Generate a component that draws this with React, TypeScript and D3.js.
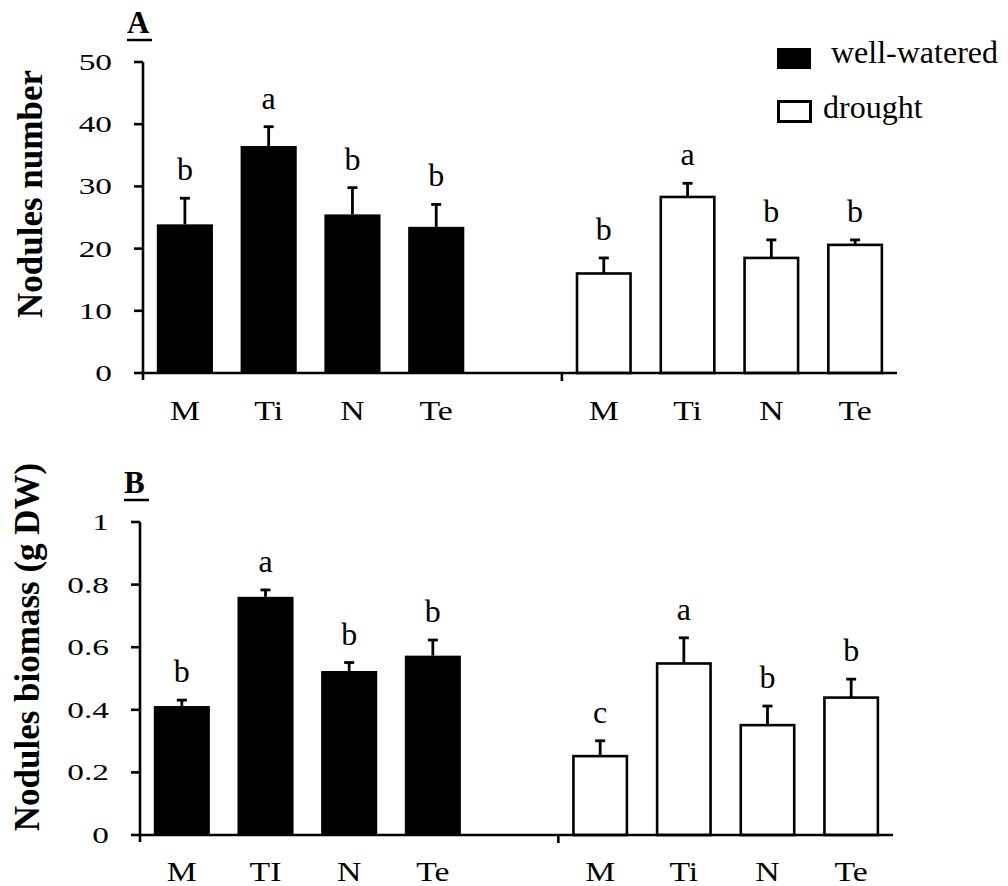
import React from 'react';
import * as d3 from 'd3';

// cultivars, per water regime
const cultivarsA = ['M', 'Ti', 'N', 'Te'];
const cultivarsBww = ['M', 'TI', 'N', 'Te'];
const cultivarsBdr = ['M', 'Ti', 'N', 'Te'];

// panel A - nodules number
const numberWW = [23.9, 36.5, 25.5, 23.5];
const numberWWErr = [4.2, 3.1, 4.3, 3.6];
const numberDr = [16.0, 28.3, 18.5, 20.6];
const numberDrErr = [2.5, 2.2, 2.9, 0.8];
const numberLettersWW = ['b', 'a', 'b', 'b'];
const numberLettersDr = ['b', 'a', 'b', 'b'];
const numberTicks = [0, 10, 20, 30, 40, 50];

// panel B - nodules biomass
const biomassWW = [0.412, 0.761, 0.524, 0.573];
const biomassWWErr = [0.019, 0.022, 0.027, 0.05];
const biomassDr = [0.252, 0.548, 0.351, 0.439];
const biomassDrErr = [0.049, 0.082, 0.061, 0.059];
const biomassLettersWW = ['b', 'a', 'b', 'b'];
const biomassLettersDr = ['c', 'a', 'b', 'b'];
const biomassTicks = [0, 0.2, 0.4, 0.6, 0.8, 1];

const legendItems = ['well-watered', 'drought'];

const FONT = '"Liberation Serif", "Times New Roman", serif';

const Panel = ({ label, title, x0, x1, yTop, yBottom, max, ticks, tickFmt,
  wwNames, drNames, ww, wwErr, dr, drErr, wwLetters, drLetters, titleY, catY }) => {
  // 9 slots: 4 well-watered, one empty gap, 4 drought
  const slots = d3.range(9);
  const x = d3.scaleBand().domain(slots).range([x0, x1]).paddingInner(0.33).paddingOuter(0.165);
  const y = d3.scaleLinear().domain([0, max]).range([yBottom, yTop]);
  const step = x.step();

  const bars = [
    ...ww.map((v, i) => ({ slot: i, v, e: wwErr[i], letter: wwLetters[i], name: wwNames[i], filled: true })),
    ...dr.map((v, i) => ({ slot: i + 5, v, e: drErr[i], letter: drLetters[i], name: drNames[i], filled: false })),
  ];

  return (
    <g>
      {/* panel letter */}
      <text x={x0 - 16} y={yTop - 29} fontFamily={FONT} fontWeight="bold" fontSize={31}>{label}</text>
      <line x1={x0 - 16} x2={x0 + 9} y1={yTop - 22} y2={yTop - 22} stroke="#000" strokeWidth={2.5} />

      {/* y title */}
      <text transform={`translate(${x0 - 101},${titleY}) rotate(-90)`} textAnchor="middle"
        fontFamily={FONT} fontWeight="bold" fontSize={35}>{title}</text>

      {/* bars */}
      {bars.map(d => {
        const cx = x(d.slot) + x.bandwidth() / 2;
        const top = y(d.v);
        const errTop = y(d.v + d.e);
        return (
          <g key={d.slot}>
            <line x1={cx} x2={cx} y1={top} y2={errTop} stroke="#000" strokeWidth={2.8} />
            <line x1={cx - 5} x2={cx + 5} y1={errTop} y2={errTop} stroke="#000" strokeWidth={2.8} />
            {d.filled
              ? <rect x={x(d.slot)} y={top} width={x.bandwidth()} height={yBottom - top} fill="#000" />
              : <rect x={x(d.slot) + 1.3} y={top} width={x.bandwidth() - 2.6} height={yBottom - top}
                  fill="#fff" stroke="#000" strokeWidth={2.6} />}
            <text x={cx} y={errTop - 18} textAnchor="middle" fontFamily={FONT} fontSize={32}>{d.letter}</text>
            <text transform={`translate(${cx},${catY}) scale(1.25,1)`} textAnchor="middle"
              fontFamily={FONT} fontSize={27}>{d.name}</text>
          </g>
        );
      })}

      {/* y axis */}
      <line x1={x0} x2={x0} y1={yTop} y2={yBottom + 7} stroke="#000" strokeWidth={2.6} />
      {ticks.map(t => (
        <g key={t}>
          <line x1={x0 - 9} x2={x0} y1={y(t)} y2={y(t)} stroke="#000" strokeWidth={2.6} />
          <text transform={`translate(${x0 - 31},${y(t)}) scale(1.45,1)`} textAnchor="end"
            dominantBaseline="central" fontFamily={FONT} fontSize={23}>{tickFmt(t)}</text>
        </g>
      ))}

      {/* x axis */}
      <line x1={x0} x2={x1} y1={yBottom} y2={yBottom} stroke="#000" strokeWidth={2.6} />
      <line x1={x0 + 5 * step} x2={x0 + 5 * step} y1={yBottom} y2={yBottom + 8} stroke="#000" strokeWidth={2.6} />
    </g>
  );
};

const App = () => {
  return (
    <svg width={1008} height={886} style={{ position: 'absolute', left: 0, top: 0, background: '#fff' }}>
      <Panel label="A" title="Nodules number" x0={143} x1={897} yTop={62} yBottom={373} max={50}
        ticks={numberTicks} tickFmt={d3.format('d')} wwNames={cultivarsA} drNames={cultivarsA}
        ww={numberWW} wwErr={numberWWErr} dr={numberDr} drErr={numberDrErr}
        wwLetters={numberLettersWW} drLetters={numberLettersDr} titleY={194} catY={420} />
      <Panel label="B" title="Nodules biomass (g DW)" x0={140} x1={893} yTop={522} yBottom={835} max={1}
        ticks={biomassTicks} tickFmt={t => (t === 0 || t === 1 ? String(t) : d3.format('.1f')(t))}
        wwNames={cultivarsBww} drNames={cultivarsBdr}
        ww={biomassWW} wwErr={biomassWWErr} dr={biomassDr} drErr={biomassDrErr}
        wwLetters={biomassLettersWW} drLetters={biomassLettersDr} titleY={647} catY={881} />

      {/* legend */}
      <rect x={777} y={48} width={34} height={21} fill="#000" />
      <text x={831} y={63} fontFamily={FONT} fontSize={32}>{legendItems[0]}</text>
      <rect x={778.5} y={101.5} width={32} height={20} fill="#fff" stroke="#000" strokeWidth={3} />
      <text x={823} y={118} fontFamily={FONT} fontSize={32}>{legendItems[1]}</text>
    </svg>
  );
};

export default App;
